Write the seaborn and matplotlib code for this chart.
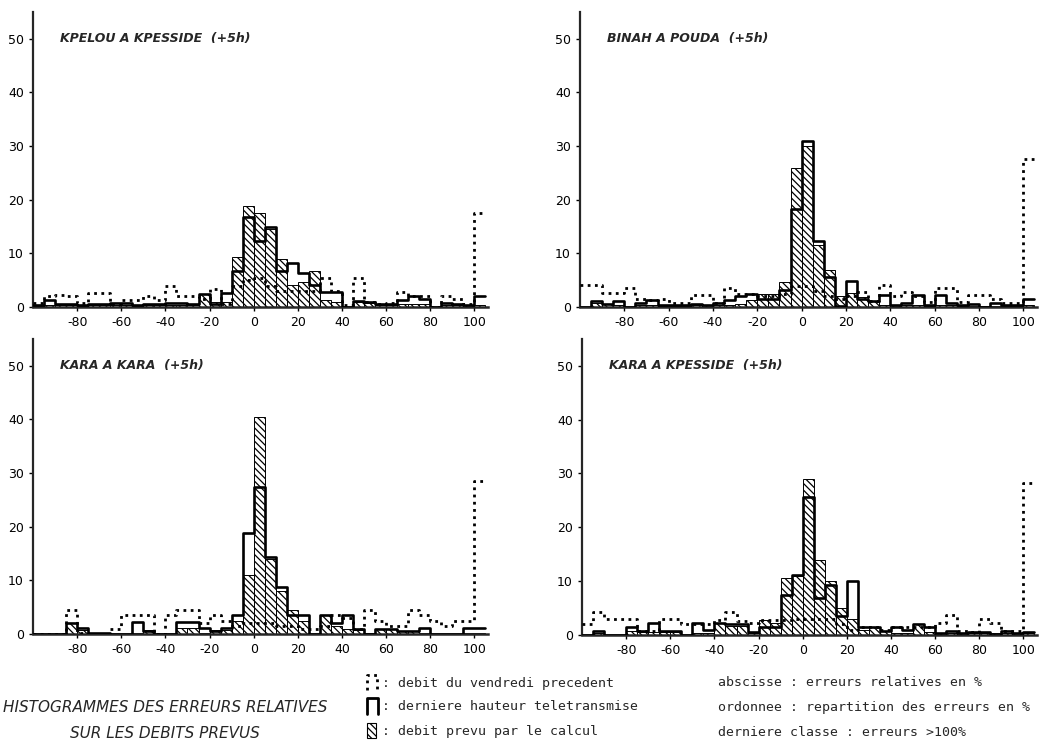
import numpy as np
import pandas as pd
import seaborn as sns
import matplotlib.pyplot as plt
from matplotlib.patches import Rectangle

# class edges: relative error in %, last class = errors > 100%
edges = list(range(-100, 110, 5))
centers = [e + 2.5 for e in edges[:-1]]

stations = ["KPELOU A KPESSIDE  (+5h)", "BINAH A POUDA  (+5h)",
            "KARA A KARA  (+5h)", "KARA A KPESSIDE  (+5h)"]

# debit du vendredi precedent (dotted)
kpelou_prev = [0.7, 2.0, 2.2, 2.0, 0.7, 2.7, 2.7, 0.5, 1.3, 1.3, 2.0, 1.3, 4.0, 2.0,
               2.0, 1.5, 3.4, 0.5, 4.0, 5.0, 5.5, 4.0, 3.0, 3.0, 3.0, 3.0, 5.5, 3.0,
               0.3, 5.5, 1.0, 0.5, 0.7, 2.8, 2.0, 2.0, 0.0, 2.0, 1.5, 0.5, 17.5]
binah_prev = [4.2, 4.2, 2.7, 2.7, 3.5, 1.5, 1.3, 1.5, 0.7, 0.7, 2.2, 2.2, 0.7, 3.5,
              2.5, 2.5, 2.0, 2.0, 2.5, 4.0, 4.0, 3.0, 2.0, 1.5, 2.0, 2.8, 1.2, 4.2,
              2.0, 2.8, 2.0, 1.0, 3.6, 3.6, 1.0, 2.2, 2.2, 1.5, 0.8, 0.8, 27.5]
karakara_prev = [0.0, 0.0, 0.0, 4.5, 0.3, 0.0, 0.0, 1.0, 3.5, 3.5, 3.5, 0.0, 3.5, 4.5,
                 4.5, 2.0, 3.5, 2.5, 1.5, 2.0, 2.0, 2.0, 1.5, 1.5, 1.0, 1.0, 1.5, 3.5,
                 3.0, 1.0, 4.5, 2.5, 1.5, 1.5, 4.5, 3.5, 2.5, 1.5, 2.5, 2.5, 28.5]
karakpe_prev = [2.0, 4.2, 3.0, 3.0, 3.0, 0.7, 0.7, 3.0, 3.0, 2.0, 2.0, 2.0, 2.8, 4.2,
                2.5, 2.2, 2.8, 2.8, 2.8, 3.0, 3.0, 3.0, 3.0, 2.0, 1.0, 1.5, 1.5, 1.0,
                1.5, 1.5, 1.5, 1.5, 2.3, 3.7, 0.7, 0.5, 3.0, 2.2, 0.7, 0.7, 28.3]

# derniere hauteur teletransmise (solid outline)
kpelou_last = [0.3, 1.3, 0.5, 0.5, 0.3, 0.5, 0.5, 0.7, 0.7, 0.3, 0.5, 0.5, 0.7, 0.7,
               0.5, 2.5, 0.5, 2.7, 6.7, 16.7, 12.3, 14.9, 6.8, 8.2, 6.3, 4.1, 2.8, 2.8,
               0.0, 1.2, 1.0, 0.5, 0.5, 1.3, 2.0, 1.5, 0.0, 0.7, 0.5, 0.3, 2.0]
binah_last = [0.0, 1.2, 0.5, 1.2, 0.0, 0.7, 1.3, 0.3, 0.3, 0.3, 0.5, 0.3, 0.7, 1.3,
              2.0, 2.5, 1.5, 1.5, 3.1, 18.3, 31.0, 12.3, 5.6, 0.2, 4.8, 1.5, 1.2, 2.2,
              0.3, 0.8, 2.2, 0.3, 2.2, 0.8, 0.3, 0.5, 0.0, 0.8, 0.3, 0.3, 1.5]
karakara_last = [0.0, 0.0, 0.0, 2.0, 1.2, 0.2, 0.2, 0.0, 0.0, 2.3, 0.5, 0.0, 0.0, 2.2,
                 2.2, 1.2, 0.5, 1.2, 3.5, 18.8, 27.5, 14.3, 8.7, 3.5, 3.5, 0.0, 3.5, 2.0,
                 3.5, 1.0, 0.0, 1.0, 1.0, 0.5, 0.5, 1.2, 0.0, 0.0, 0.0, 1.2, 1.2]
karakpe_last = [0.0, 0.7, 0.0, 0.0, 1.5, 0.7, 2.2, 0.7, 0.7, 0.0, 2.2, 1.0, 2.2, 2.0,
                2.0, 0.5, 1.5, 1.5, 7.5, 11.2, 25.7, 6.8, 9.3, 3.5, 10.0, 1.5, 1.5, 0.7,
                1.5, 1.0, 2.0, 1.5, 0.3, 0.7, 0.3, 0.5, 0.5, 0.0, 0.7, 0.3, 0.5]

# debit prevu par le calcul (hatched)
kpelou_calc = [0.2, 0.3, 0.3, 0.3, 0.2, 0.3, 0.3, 0.3, 0.3, 0.2, 0.3, 0.3, 0.3, 0.3,
               0.3, 2.5, 1.0, 1.0, 9.3, 18.8, 17.5, 14.5, 8.9, 4.1, 4.7, 6.8, 1.4, 1.0,
               0.0, 1.0, 0.8, 0.3, 0.3, 0.5, 0.5, 0.5, 0.0, 0.3, 0.3, 0.3, 0.3]
binah_calc = [0.0, 0.7, 0.5, 0.3, 0.0, 0.3, 0.3, 0.2, 0.2, 0.2, 0.3, 0.3, 0.3, 0.3,
              0.5, 1.3, 2.5, 2.5, 4.6, 26.0, 30.0, 11.5, 7.0, 2.0, 2.6, 1.8, 1.2, 0.3,
              0.3, 0.3, 0.3, 0.2, 0.3, 0.3, 0.2, 0.2, 0.2, 0.2, 0.2, 0.2, 0.3]
karakara_calc = [0.0, 0.0, 0.0, 2.0, 0.7, 0.0, 0.0, 0.0, 0.0, 0.3, 0.7, 0.0, 0.0, 1.2,
                 1.2, 0.3, 0.7, 0.7, 2.5, 11.0, 40.5, 14.0, 8.0, 4.5, 2.5, 0.0, 3.5, 1.5,
                 1.0, 0.7, 0.3, 1.0, 1.0, 0.5, 0.5, 0.3, 0.0, 0.0, 0.0, 0.3, 0.3]
karakpe_calc = [0.0, 0.3, 0.0, 0.0, 0.8, 0.5, 0.5, 0.5, 0.5, 0.0, 0.3, 0.3, 2.2, 1.7,
                1.7, 0.3, 2.7, 2.3, 10.5, 10.9, 29.0, 14.0, 10.0, 5.0, 3.0, 1.0, 1.5, 0.7,
                0.3, 0.3, 2.0, 0.5, 0.3, 0.3, 0.3, 0.3, 0.3, 0.3, 0.3, 0.3, 0.3]

prev_all = [kpelou_prev, binah_prev, karakara_prev, karakpe_prev]
last_all = [kpelou_last, binah_last, karakara_last, karakpe_last]
calc_all = [kpelou_calc, binah_calc, karakara_calc, karakpe_calc]

sns.set_style("ticks")
plt.rcParams["font.family"] = ["DejaVu Sans"]
plt.rcParams["axes.unicode_minus"] = False
plt.rcParams["hatch.linewidth"] = 0.9
plt.rcParams["hatch.color"] = "black"

fig = plt.figure(figsize=(10.45, 7.4), dpi=100)

# axes boxes in figure fractions (left, bottom, width, height)
boxes = [(0.0316, 0.585, 0.435, 0.399),
         (0.555, 0.585, 0.437, 0.399),
         (0.0316, 0.143, 0.435, 0.399),
         (0.557, 0.142, 0.435, 0.400)]

dots = (0, (1, 1.6))
hatch = "\\" * 5

for k in range(4):
    ax = fig.add_axes(boxes[k])
    df = pd.DataFrame({"err": centers, "prev": prev_all[k],
                       "last": last_all[k], "calc": calc_all[k]})
    sns.histplot(data=df, x="err", weights="calc", bins=edges, element="bars",
                 fill=True, ax=ax, facecolor="white", edgecolor="black",
                 linewidth=0.7, hatch=hatch, zorder=1)
    sns.histplot(data=df, x="err", weights="last", bins=edges, element="step",
                 fill=False, ax=ax, color="black", linewidth=1.9, zorder=3)
    sns.histplot(data=df, x="err", weights="prev", bins=edges, element="step",
                 fill=False, ax=ax, color="black", linewidth=2.0,
                 linestyle=dots, zorder=4)
    ax.set_xlim(-100, 106)
    ax.set_ylim(0, 55)
    ax.set_xticks(range(-80, 101, 20))
    ax.set_yticks(range(0, 51, 10))
    ax.set_xlabel("")
    ax.set_ylabel("")
    ax.tick_params(labelsize=9, length=3, width=1, colors="black")
    ax.spines["top"].set_visible(False)
    ax.spines["right"].set_visible(False)
    ax.spines["left"].set_linewidth(1.6)
    ax.spines["bottom"].set_linewidth(1.8)
    ax.text(-88, 50, stations[k], fontsize=9, fontweight="bold",
            fontstyle="italic", va="center", ha="left")

# caption area, in pixel coordinates
cap = fig.add_axes([0, 0, 1, 1])
cap.set_xlim(0, 1045)
cap.set_ylim(740, 0)
cap.axis("off")

cap.text(165, 707, "HISTOGRAMMES DES ERREURS RELATIVES", ha="center", va="center",
         fontsize=11, fontstyle="italic")
cap.text(165, 733, "SUR LES DEBITS PREVUS", ha="center", va="center",
         fontsize=11, fontstyle="italic")

# legend symbols
cap.plot([367, 367, 377, 377], [690, 675, 675, 690], color="black",
         linewidth=2, linestyle=dots)
cap.plot([367, 367, 378, 378], [714, 698, 698, 714], color="black", linewidth=2)
cap.add_patch(Rectangle((367, 723), 9, 15, facecolor="white", edgecolor="black",
                        linewidth=0.8, hatch=hatch))

legend_txt = [": debit du vendredi precedent",
              ": derniere hauteur teletransmise",
              ": debit prevu par le calcul"]
notes_txt = ["abscisse : erreurs relatives en %",
             "ordonnee : repartition des erreurs en %",
             "derniere classe : erreurs >100%"]
for i, y in enumerate([683, 707, 732]):
    cap.text(382, y, legend_txt[i], ha="left", va="center", fontsize=9.5,
             family="DejaVu Sans Mono")
    cap.text(718, y, notes_txt[i], ha="left", va="center", fontsize=9.5,
             family="DejaVu Sans Mono")

fig.savefig("out.png", dpi=100, facecolor="white")
